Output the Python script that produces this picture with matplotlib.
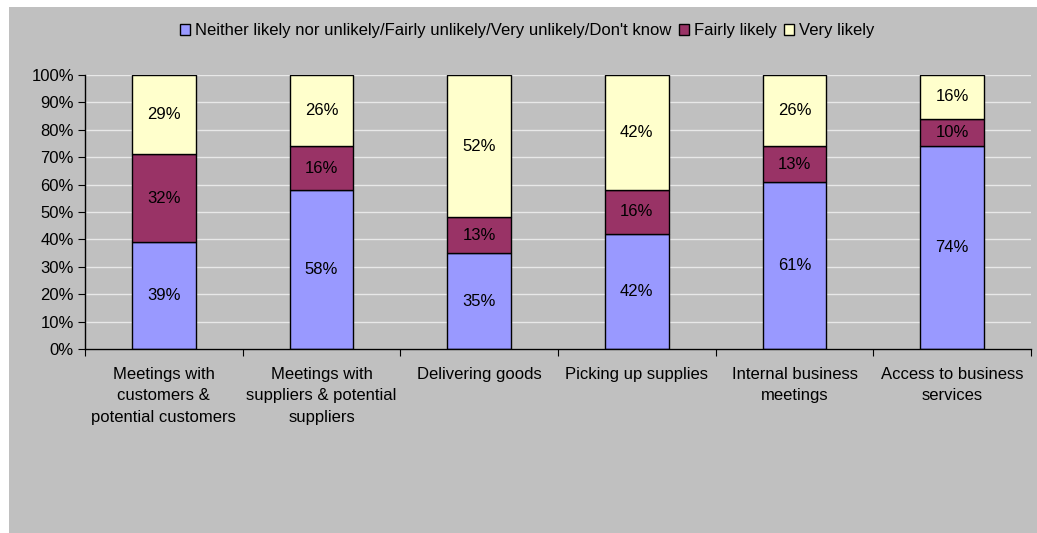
import matplotlib
matplotlib.use("Agg")
import matplotlib.pyplot as plt
from matplotlib.patches import Rectangle
import numpy as np

categories = [
    "Meetings with\ncustomers &\npotential customers",
    "Meetings with\nsuppliers & potential\nsuppliers",
    "Delivering goods",
    "Picking up supplies",
    "Internal business\nmeetings",
    "Access to business\nservices",
]
series_names = [
    "Neither likely nor unlikely/Fairly unlikely/Very unlikely/Don't know",
    "Fairly likely",
    "Very likely",
]
neither = [39, 58, 35, 42, 61, 74]
fairly = [32, 16, 13, 16, 13, 10]
very = [29, 26, 52, 42, 26, 16]
colors = ["#9999FF", "#993366", "#FFFFCC"]
yticks = [0, 10, 20, 30, 40, 50, 60, 70, 80, 90, 100]

plt.rcParams['font.family'] = ['Liberation Sans', 'DejaVu Sans']
FS = 12

W, H = 1037, 533
fig = plt.figure(figsize=(W / 100, H / 100), dpi=100, facecolor="white")
fig.patches.append(Rectangle((9 / W, 0), 1 - 9 / W, 1 - 7 / H, transform=fig.transFigure,
                             facecolor="#C0C0C0", edgecolor="none", zorder=-10))

ax = fig.add_axes([85 / W, (H - 349) / H, (1031 - 85) / W, (349 - 75) / H])
ax.set_facecolor("#C0C0C0")
ax.patch.set_alpha(0)

x = np.arange(len(categories))
data = [neither, fairly, very]
bottom = np.zeros(len(categories))
handles = []
for vals, col, name in zip(data, colors, series_names):
    vals = np.array(vals, dtype=float)
    bars = ax.bar(x, vals, 0.405, bottom=bottom, color=col, edgecolor="black",
                  linewidth=1, label=name, zorder=3)
    handles.append(bars)
    for xi, b, v in zip(x, bottom, vals):
        ax.text(xi, b + v / 2, f"{int(v)}%", ha="center", va="center",
                fontsize=FS, color="black", zorder=4)
    bottom += vals

ax.set_xlim(-0.5, len(categories) - 0.5)
ax.set_ylim(0, 100)
ax.set_yticks(yticks)
ax.set_yticklabels([f"{t}%" for t in yticks], fontsize=FS)
ax.yaxis.grid(True, color="#E8E8E8", linewidth=1, zorder=1)
ax.set_axisbelow(True)

ax.set_xticks(np.arange(len(categories) + 1) - 0.5)
ax.set_xticklabels([])
ax.set_xticks(x, minor=True)
ax.set_xticklabels(categories, minor=True, fontsize=FS, linespacing=1.53)
ax.tick_params(axis="x", which="minor", length=0, pad=13)
ax.tick_params(axis="x", which="major", length=5, direction="out", color="black")
ax.tick_params(axis="y", length=5, direction="out", color="black", pad=3)

for s in ["top", "right"]:
    ax.spines[s].set_visible(False)
for s in ["left", "bottom"]:
    ax.spines[s].set_color("black")
    ax.spines[s].set_linewidth(1)
    ax.spines[s].set_zorder(5)

leg = fig.legend(handles, series_names, loc="center", ncol=3,
                 bbox_to_anchor=(527 / W, 1 - 31 / H), frameon=False,
                 fontsize=FS, handlelength=0.6, handleheight=0.6,
                 handletextpad=0.3, columnspacing=0.45, borderpad=0)

fig.savefig("out.png", dpi=100, facecolor="white")
